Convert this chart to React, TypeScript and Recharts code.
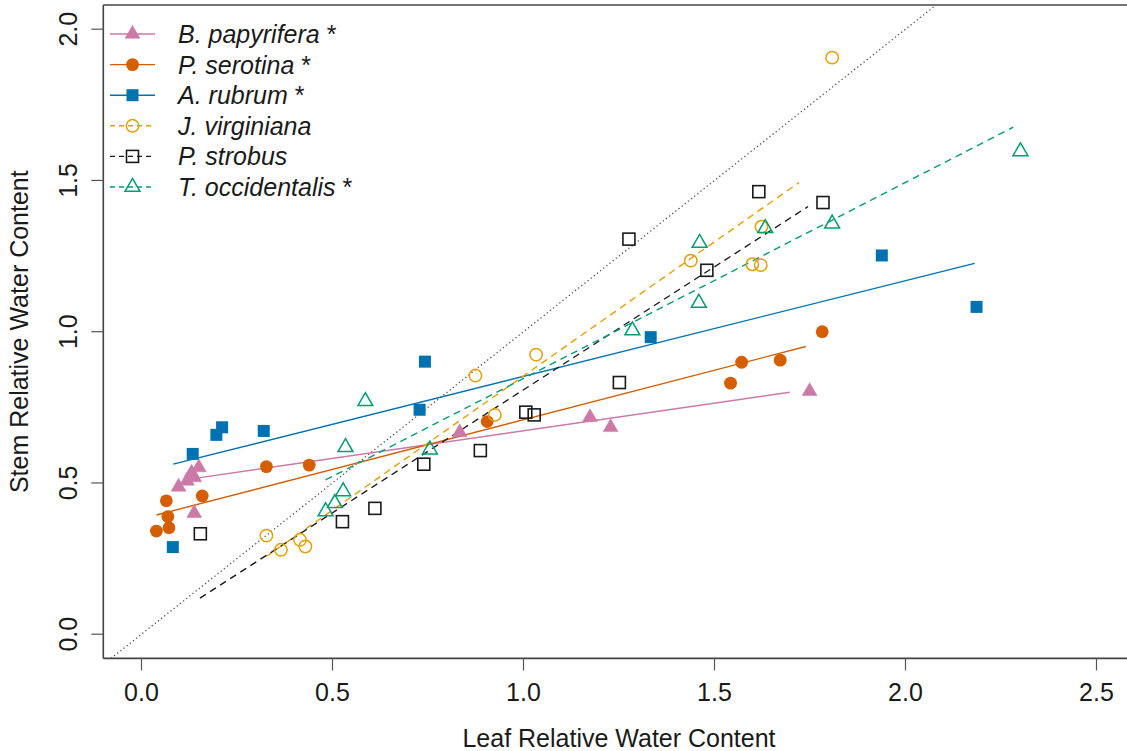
import React from 'react';
import { ScatterChart, Scatter, XAxis, YAxis, ReferenceLine, Legend, Label } from 'recharts';

type Pt = { x: number; y: number };

// Axis ticks
const xTicks = [0, 0.5, 1, 1.5, 2, 2.5];
const yTicks = [0, 0.5, 1, 1.5, 2];

// Leaf (x) vs stem (y) relative water content, per species
const bPapyrifera: Pt[] = [
  { x: 0.097, y: 0.487 }, { x: 0.119, y: 0.507 }, { x: 0.131, y: 0.533 }, { x: 0.138, y: 0.518 },
  { x: 0.150, y: 0.551 }, { x: 0.138, y: 0.400 }, { x: 0.833, y: 0.667 }, { x: 1.174, y: 0.717 },
  { x: 1.228, y: 0.684 }, { x: 1.749, y: 0.803 },
];
const pSerotina: Pt[] = [
  { x: 0.039, y: 0.341 }, { x: 0.072, y: 0.352 }, { x: 0.069, y: 0.389 }, { x: 0.065, y: 0.441 },
  { x: 0.159, y: 0.457 }, { x: 0.327, y: 0.554 }, { x: 0.439, y: 0.559 }, { x: 0.905, y: 0.703 },
  { x: 1.542, y: 0.830 }, { x: 1.571, y: 0.899 }, { x: 1.672, y: 0.906 }, { x: 1.782, y: 1.000 },
];
const aRubrum: Pt[] = [
  { x: 0.082, y: 0.288 }, { x: 0.134, y: 0.596 }, { x: 0.196, y: 0.659 }, { x: 0.211, y: 0.684 },
  { x: 0.320, y: 0.672 }, { x: 0.728, y: 0.742 }, { x: 0.742, y: 0.901 }, { x: 1.333, y: 0.982 },
  { x: 1.938, y: 1.252 }, { x: 2.186, y: 1.082 },
];
const jVirginiana: Pt[] = [
  { x: 0.327, y: 0.326 }, { x: 0.365, y: 0.279 }, { x: 0.415, y: 0.312 }, { x: 0.429, y: 0.290 },
  { x: 0.874, y: 0.855 }, { x: 0.925, y: 0.725 }, { x: 1.033, y: 0.924 }, { x: 1.438, y: 1.235 },
  { x: 1.599, y: 1.223 }, { x: 1.621, y: 1.220 }, { x: 1.623, y: 1.347 }, { x: 1.808, y: 1.906 },
];
const pStrobus: Pt[] = [
  { x: 0.154, y: 0.332 }, { x: 0.526, y: 0.372 }, { x: 0.611, y: 0.416 }, { x: 0.739, y: 0.562 },
  { x: 0.887, y: 0.607 }, { x: 1.006, y: 0.734 }, { x: 1.028, y: 0.725 }, { x: 1.251, y: 0.832 },
  { x: 1.276, y: 1.306 }, { x: 1.480, y: 1.203 }, { x: 1.616, y: 1.463 }, { x: 1.784, y: 1.427 },
];
const tOccidentalis: Pt[] = [
  { x: 0.482, y: 0.406 }, { x: 0.506, y: 0.433 }, { x: 0.528, y: 0.472 }, { x: 0.534, y: 0.618 },
  { x: 0.586, y: 0.770 }, { x: 0.755, y: 0.610 }, { x: 1.285, y: 1.004 }, { x: 1.459, y: 1.095 },
  { x: 1.461, y: 1.293 }, { x: 1.633, y: 1.342 }, { x: 1.808, y: 1.357 }, { x: 2.301, y: 1.596 },
];

// Fitted regression segments (start and end points)
const bPapyriferaFit: Pt[] = [{ x: 0.144, y: 0.516 }, { x: 1.697, y: 0.800 }];
const pSerotinaFit: Pt[] = [{ x: 0.039, y: 0.394 }, { x: 1.739, y: 0.951 }];
const aRubrumFit: Pt[] = [{ x: 0.083, y: 0.562 }, { x: 2.181, y: 1.226 }];
const jVirginianaFit: Pt[] = [{ x: 0.327, y: 0.257 }, { x: 1.721, y: 1.493 }];
const pStrobusFit: Pt[] = [{ x: 0.153, y: 0.119 }, { x: 1.745, y: 1.414 }];
const tOccidentalisFit: Pt[] = [{ x: 0.482, y: 0.510 }, { x: 2.282, y: 1.676 }];

// 1:1 reference line
const oneToOne: Pt[] = [{ x: -0.08, y: -0.08 }, { x: 2.08, y: 2.08 }];

const FONT = '"Liberation Sans", Arial, Helvetica, sans-serif';
const TEXT = '#1a1a1a';

type Kind = 'triFill' | 'circFill' | 'sqFill' | 'circOpen' | 'sqOpen' | 'triOpen';

function Marker({ kind, cx, cy, color }: { kind: Kind; cx: number; cy: number; color: string }) {
  const r = 8.6;
  const tc = r * 0.866;
  const tri = `${cx},${cy - r} ${cx + tc},${cy + r / 2} ${cx - tc},${cy + r / 2}`;
  switch (kind) {
    case 'triFill':
      return <polygon points={tri} fill={color} stroke={color} strokeWidth={0.5} />;
    case 'triOpen':
      return <polygon points={tri} fill="none" stroke={color} strokeWidth={1.5} />;
    case 'circFill':
      return <circle cx={cx} cy={cy} r={6.4} fill={color} />;
    case 'circOpen':
      return <circle cx={cx} cy={cy} r={6.2} fill="none" stroke={color} strokeWidth={1.5} />;
    case 'sqFill':
      return <rect x={cx - 6} y={cy - 6} width={12} height={12} fill={color} />;
    case 'sqOpen':
    default:
      return <rect x={cx - 6} y={cy - 6} width={12} height={12} fill="none" stroke={color} strokeWidth={1.6} />;
  }
}

type Species = {
  name: string;
  sig: boolean;
  color: string;
  kind: Kind;
  dashed: boolean;
  data: Pt[];
  fit: Pt[];
};

const speciesList: Species[] = [
  { name: 'B. papyrifera', sig: true, color: '#CC79A7', kind: 'triFill', dashed: false, data: bPapyrifera, fit: bPapyriferaFit },
  { name: 'P. serotina', sig: true, color: '#D55E00', kind: 'circFill', dashed: false, data: pSerotina, fit: pSerotinaFit },
  { name: 'A. rubrum', sig: true, color: '#0072B2', kind: 'sqFill', dashed: false, data: aRubrum, fit: aRubrumFit },
  { name: 'J. virginiana', sig: false, color: '#E69F00', kind: 'circOpen', dashed: true, data: jVirginiana, fit: jVirginianaFit },
  { name: 'P. strobus', sig: false, color: '#1a1a1a', kind: 'sqOpen', dashed: true, data: pStrobus, fit: pStrobusFit },
  { name: 'T. occidentalis', sig: true, color: '#009E73', kind: 'triOpen', dashed: true, data: tOccidentalis, fit: tOccidentalisFit },
];

const renderLegend = () => (
  <svg width={400} height={210} style={{ display: 'block' }}>
    {speciesList.map((s, i) => {
      const cy = 34 + i * 30.6;
      return (
        <g key={s.name}>
          <line x1={110} x2={155} y1={cy} y2={cy} stroke={s.color} strokeWidth={1.4}
            strokeDasharray={s.dashed ? '5 4' : undefined} />
          <Marker kind={s.kind} cx={132.5} cy={cy} color={s.color} />
          <text x={178} y={cy} dy="0.36em" fontSize={25} fontFamily={FONT} fill={TEXT} fontStyle="italic">
            {s.name}
            {s.sig ? <tspan fontStyle="normal"> *</tspan> : null}
          </text>
        </g>
      );
    })}
  </svg>
);

const YTick = (props: any) => {
  const { y, payload } = props;
  const cx = 68.3;
  return (
    <text x={cx} y={y} transform={`rotate(-90 ${cx} ${y})`} textAnchor="middle" dy="0.36em"
      fontSize={25} fontFamily={FONT} fill={TEXT}>
      {Number(payload.value).toFixed(1)}
    </text>
  );
};

export default function App() {
  return (
    <div style={{ position: 'absolute', left: 0, top: 0, width: 1127, height: 751, overflow: 'hidden', background: '#fff' }}>
      <ScatterChart width={1140} height={751} margin={{ top: 5, right: 5.3, bottom: 0, left: 0 }}>
        <XAxis
          type="number"
          dataKey="x"
          domain={[-0.1, 2.6]}
          ticks={xTicks}
          interval={0}
          allowDataOverflow
          height={92.6}
          tickSize={12}
          tickMargin={12.9}
          tickFormatter={(v: number) => v.toFixed(1)}
          tick={{ fontSize: 25, fill: TEXT, fontFamily: FONT }}
          axisLine={{ stroke: '#444', strokeWidth: 1.6 }}
          tickLine={{ stroke: '#555', strokeWidth: 1.2 }}
        >
          <Label
            content={() => (
              <text x={619} y={747} textAnchor="middle" fontSize={25} fontFamily={FONT} fill={TEXT}>
                Leaf Relative Water Content
              </text>
            )}
          />
        </XAxis>
        <YAxis
          type="number"
          dataKey="y"
          domain={[-0.08, 2.08]}
          ticks={yTicks}
          interval={0}
          allowDataOverflow
          width={103.3}
          tickSize={12}
          tick={<YTick />}
          axisLine={{ stroke: '#444', strokeWidth: 1.6 }}
          tickLine={{ stroke: '#555', strokeWidth: 1.2 }}
        >
          <Label
            content={() => (
              <text x={19} y={331.7} transform="rotate(-90 19 331.7)" textAnchor="middle" dy="0.36em"
                fontSize={25} fontFamily={FONT} fill={TEXT}>
                Stem Relative Water Content
              </text>
            )}
          />
        </YAxis>

        <ReferenceLine y={2.08} stroke="#444" strokeWidth={1.6} ifOverflow="visible" />
        <ReferenceLine segment={oneToOne} stroke="#555" strokeWidth={1.3} strokeDasharray="1.3 2.7" ifOverflow="hidden" />

        {speciesList.map((s) => (
          <Scatter
            key={s.name}
            name={s.name}
            data={s.data}
            isAnimationActive={false}
            shape={(p: any) => <Marker kind={s.kind} cx={p.cx} cy={p.cy} color={s.color} />}
          />
        ))}

        {speciesList.map((s) => (
          <ReferenceLine
            key={`${s.name}-fit`}
            segment={s.fit}
            stroke={s.color}
            strokeWidth={1.4}
            strokeDasharray={s.dashed ? '7 5' : undefined}
            ifOverflow="hidden"
          />
        ))}

        <Legend
          content={renderLegend}
          layout="horizontal"
          verticalAlign="middle"
          wrapperStyle={{ position: 'absolute', left: 0, top: 0, width: 400, height: 210 }}
        />
      </ScatterChart>
    </div>
  );
}
